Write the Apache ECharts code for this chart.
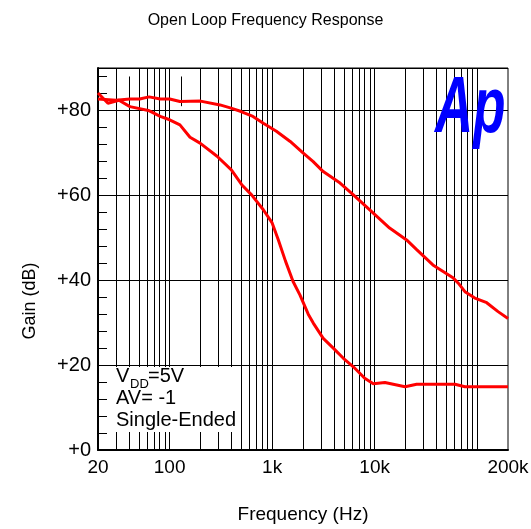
<!DOCTYPE html>
<html>
<head>
<meta charset="utf-8">
<script src="https://cdn.jsdelivr.net/npm/echarts@6/dist/echarts.min.js"></script>
<style>
  html, body { margin: 0; padding: 0; background: #fff; }
  #chart_gain { width: 531px; height: 529px; }
</style>
</head>
<body>
<div id="chart_gain"></div>
<script>
// upper curve
const upperFreq = [20, 30, 41, 51, 63, 81, 100, 126, 200, 310, 390, 490, 650, 820, 1100, 1500, 2000, 2500, 3150, 4600, 6200, 9700, 14000, 20500, 25700, 37000, 58600, 65500, 76000, 95000, 124000, 160000, 200000];
const upperGain = [82.7, 82.4, 82.7, 82.7, 83.2, 82.7, 82.7, 82.1, 82.2, 81.3, 80.6, 79.8, 78.6, 77.0, 75.1, 72.7, 70.0, 68.0, 65.6, 62.9, 60.1, 55.8, 52.3, 49.5, 47.2, 43.6, 40.5, 39.3, 37.3, 35.8, 34.7, 32.6, 31.0];
// lower curve
const lowerFreq = [20, 25, 32, 41, 62, 81, 100, 126, 158, 198, 290, 400, 505, 630, 820, 1000, 1150, 1350, 1600, 1870, 2250, 2520, 3150, 3950, 4950, 6200, 8000, 9700, 12600, 19800, 25700, 60800, 76000, 200000];
const lowerGain = [84.1, 81.7, 82.4, 80.9, 80.0, 78.6, 77.8, 76.6, 73.7, 72.3, 69.2, 66.0, 62.5, 60.1, 56.6, 53.5, 49.5, 44.5, 39.7, 36.5, 32.0, 29.9, 26.3, 24.0, 21.6, 19.6, 16.9, 15.6, 15.9, 14.9, 15.5, 15.5, 14.9, 14.9];

const gridFreqs = [30, 50, 60, 70, 80, 90, 100, 200, 300, 400, 500, 600, 700, 800, 900, 1000,
  2000, 3000, 4000, 5000, 6000, 7000, 8000, 9000, 10000,
  20000, 30000, 40000, 50000, 60000, 70000, 80000, 90000, 100000];
const xLabels = { 20: "20", 100: "100", 1000: "1k", 10000: "10k", 200000: "200k" };
const noteLines = ["AV= -1", "Single-Ended"];

const FONT = "Liberation Sans, Arial, sans-serif";

const chart = echarts.init(document.getElementById("chart_gain"));

const zip = (xs, ys) => xs.map((x, i) => [x, ys[i]]);

const gridMarks = gridFreqs.map((f) => ({ xAxis: f }));
gridMarks.push([{ coord: [40, 0] }, { coord: [40, 88] }]);
gridMarks.push([{ coord: [129, 81] }, { coord: [129, 88] }]);

let option = {
  animation: false,
  backgroundColor: "#fff",
  title: {
    text: "Open Loop Frequency Response",
    left: "center",
    top: 8,
    textStyle: { color: "#000", fontSize: 16, fontWeight: "normal", fontFamily: FONT },
  },
  grid: {
    left: 98, right: 23, top: 68, bottom: 79,
    show: true, borderColor: "#000", borderWidth: 1,
    outerBoundsMode: "none",
  },
  xAxis: {
    type: "log",
    logBase: 10,
    min: 20,
    max: 200000,
    name: "Frequency (Hz)",
    nameLocation: "middle",
    nameGap: 55,
    nameTextStyle: { color: "#000", fontSize: 19, fontFamily: FONT },
    axisLine: { show: true, lineStyle: { color: "#000", width: 2 } },
    axisTick: { show: false },
    splitLine: { show: false },
    axisLabel: {
      color: "#000",
      fontSize: 19,
      fontFamily: FONT,
      margin: 8,
      showMinLabel: true,
      showMaxLabel: true,
      formatter: (v) => xLabels[Math.round(v)] || "",
    },
  },
  yAxis: [
    {
      type: "value",
      min: 0,
      max: 90,
      interval: 20,
      axisLine: { show: true, lineStyle: { color: "#000", width: 2 } },
      axisTick: { show: false },
      axisLabel: {
        color: "#000",
        fontSize: 20,
        fontFamily: FONT,
        margin: 7,
        formatter: (v) => (v % 20 === 0 ? "+" + v : ""),
      },
      splitLine: { show: true, lineStyle: { color: "#000", width: 1 } },
    },
    {
      type: "value",
      min: 0,
      max: 90,
      interval: 4,
      position: "left",
      axisLine: { show: false },
      axisTick: { show: true, inside: true, length: 9, lineStyle: { color: "#000", width: 1 } },
      axisLabel: { show: false },
      splitLine: { show: false },
    },
  ],
  graphic: [
    {
      type: "text",
      x: 30,
      y: 301,
      rotation: Math.PI / 2,
      style: { text: "Gain (dB)", fill: "#000", font: "18px " + FONT, textAlign: "center", textVerticalAlign: "middle" },
    },
    {
      type: "text",
      x: 435,
      y: 110,
      scaleX: 0.66,
      z: 100,
      style: { text: "Ap", fill: "#0000ff", font: "italic bold 80px " + FONT, textAlign: "left", textVerticalAlign: "middle" },
    },
    {
      type: "rect",
      z: 100,
      shape: { x: 113, y: 367, width: 126, height: 65 },
      style: { fill: "#fff" },
    },
    {
      type: "text", z: 101, x: 116, y: 376,
      style: { text: "V", fill: "#000", font: "20px " + FONT, textVerticalAlign: "middle" },
    },
    {
      type: "text", z: 101, x: 130, y: 384,
      style: { text: "DD", fill: "#000", font: "13px " + FONT, textVerticalAlign: "middle" },
    },
    {
      type: "text", z: 101, x: 148, y: 376,
      style: { text: "=5V", fill: "#000", font: "20px " + FONT, textVerticalAlign: "middle" },
    },
    {
      type: "text", z: 101, x: 116, y: 398,
      style: { text: noteLines[0], fill: "#000", font: "20px " + FONT, textVerticalAlign: "middle" },
    },
    {
      type: "text", z: 101, x: 116, y: 420,
      style: { text: noteLines[1], fill: "#000", font: "20px " + FONT, textVerticalAlign: "middle" },
    },
  ],
  series: [
    {
      name: "grid",
      type: "line",
      data: [],
      z: 1,
      silent: true,
      markLine: {
        silent: true,
        symbol: ["none", "none"],
        label: { show: false },
        lineStyle: { color: "#000", width: 1, type: "solid" },
        data: gridMarks,
      },
    },
    {
      name: "upper",
      type: "line",
      data: zip(upperFreq, upperGain),
      showSymbol: false,
      z: 5,
      lineStyle: { color: "#ff0000", width: 3 },
      itemStyle: { color: "#ff0000" },
    },
    {
      name: "lower",
      type: "line",
      data: zip(lowerFreq, lowerGain),
      showSymbol: false,
      z: 5,
      lineStyle: { color: "#ff0000", width: 3 },
      itemStyle: { color: "#ff0000" },
    },
  ],
};
chart.setOption(option);
</script>
</body>
</html>
